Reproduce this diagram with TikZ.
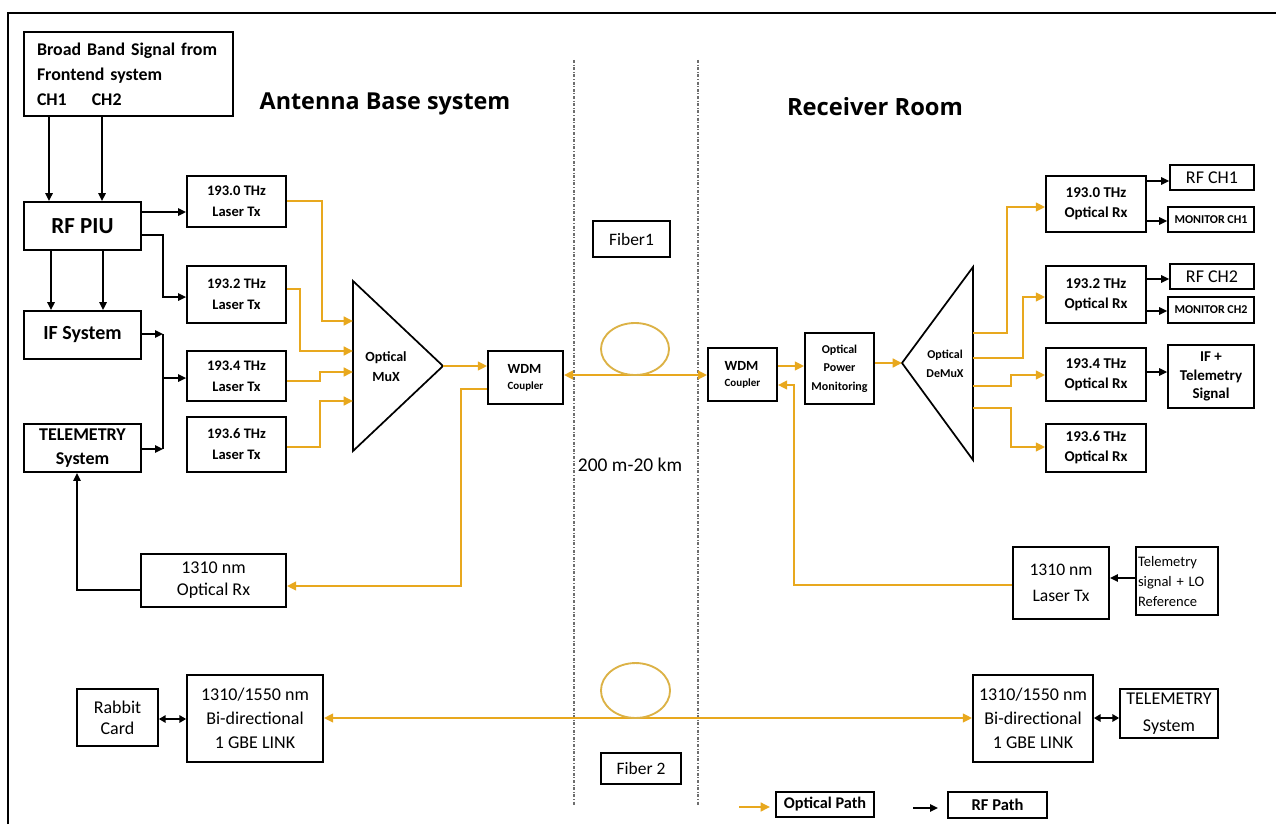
\documentclass[tikz,border=0pt]{standalone}
\usepackage{fontspec}
\setmainfont{Carlito}
\newfontfamily\titlefont{Open Sans}
\usetikzlibrary{arrows.meta}
\definecolor{optc}{RGB}{232,168,30}
\definecolor{loopc}{RGB}{220,178,70}
\definecolor{dotc}{RGB}{110,110,110}
\newcommand\fsz[2]{\fontsize{#1pt}{#2pt}\selectfont}
\tikzset{
  box/.style={draw, line width=1.3pt, inner sep=0pt, align=center},
  sz/.style 2 args={minimum width=#1*0.75pt, minimum height=#2*0.75pt},
  rf/.style={line width=1.3pt, -{Triangle[length=6pt,width=5.5pt]}},
  rfb/.style={line width=1.3pt, {Triangle[length=5pt,width=5.5pt]}-{Triangle[length=5pt,width=5.5pt]}},
  opt/.style={draw=optc, line width=2.1pt, -{Triangle[length=7pt,width=6.5pt]}},
  optb/.style={draw=optc, line width=2.1pt, {Triangle[length=7pt,width=6.5pt]}-{Triangle[length=7pt,width=6.5pt]}},
  fiberloop/.style={draw=loopc, line width=1.4pt},
  sepline/.style={draw=dotc, line width=1pt, dash pattern=on 2.2pt off 1.3pt on 0.6pt off 1.3pt},
}
\begin{document}
\begin{tikzpicture}[x=0.75pt, y=-0.75pt]
\useasboundingbox (0,0) rectangle (1276,824);
% frame
\coordinate (fr1) at (8,824);
\coordinate (fr2) at (8,13);
\coordinate (fr3) at (1276,13);
\draw[line width=1.6pt] (fr1) -- (fr2) -- (fr3);
% separators
\coordinate (s1t) at (574,60); \coordinate (s1b) at (574,805);
\coordinate (s2t) at (698,60); \coordinate (s2b) at (698,805);
\draw[sepline] (s1t) -- (s1b);
\draw[sepline] (s2t) -- (s2b);

% titles
\node[font=\titlefont\bfseries\fsz{17.5}{20}] (tA) at (385,104) {Antenna Base system};
\node[font=\titlefont\bfseries\fsz{17.8}{20}] (tR) at (875,107) {Receiver Room};
\node[font=\fsz{14.6}{17}] (dist) at (630,465) {200 m-20 km};

% left side boxes
\node[box, sz={209}{84}, align=left, text width=183*0.75pt, inner xsep=13*0.75pt, font=\bfseries\fsz{13.4}{18.75}] (bb) at (128.5,74) {Broad Band Signal from\\Frontend system\\CH1\hspace{1.4em}CH2};
\node[box, sz={117}{48}, font=\bfseries\fsz{17.25}{20}] (rfpiu) at (82.5,226) {RF PIU};
\node[box, sz={117}{48}, font=\bfseries\fsz{15}{18}] (ifs) at (82.5,335) {IF System};
\node[box, sz={117}{48}, font=\bfseries\fsz{13.5}{18}] (tel) at (82.5,448) {TELEMETRY\\System};
\node[box, sz={99}{51}, font=\bfseries\fsz{10.9}{15.75}] (l0) at (236.5,201.5) {193.0 THz\\Laser Tx};
\node[box, sz={99}{57}, font=\bfseries\fsz{10.9}{15.75}] (l2) at (236.5,294.5) {193.2 THz\\Laser Tx};
\node[box, sz={99}{50}, font=\bfseries\fsz{10.9}{15.75}] (l4) at (236.5,376) {193.4 THz\\Laser Tx};
\node[box, sz={99}{55}, font=\bfseries\fsz{10.9}{15.75}] (l6) at (236.5,444.5) {193.6 THz\\Laser Tx};
\node[box, sz={145}{53}, font=\fsz{13.5}{16.5}] (orx) at (213.5,580.5) {1310 nm\\Optical Rx};
\node[box, sz={81}{57}, font=\fsz{13.5}{15.75}] (rab) at (117.5,717.5) {Rabbit\\Card};
\node[box, sz={136}{87}, font=\fsz{13.5}{18}] (bil) at (255,718.5) {1310/1550 nm\\Bi-directional\\1 GBE LINK};
\node[box, sz={75}{53}, align=left, font=\bfseries] (wdml) at (525.5,377.5) {{\fsz{10.5}{14.25}WDM}\\{\fsz{8.25}{14.25}Coupler}};

% middle
\node[box, sz={77}{36}, font=\fsz{13.1}{16}] (fib1) at (631.5,239) {Fiber1};
\node[box, sz={80}{31}, font=\fsz{13.1}{16}] (fib2) at (641,768.5) {Fiber 2};

% right side boxes
\node[box, sz={69}{53}, align=left, font=\bfseries] (wdmr) at (742.5,374.5) {{\fsz{10.5}{14.25}WDM}\\{\fsz{8.25}{14.25}Coupler}};
\node[box, sz={69}{71}, font=\bfseries\fsz{9}{13.9}] (opm) at (839.5,368.5) {Optical\\Power\\Monitoring};
\node[box, sz={100}{56}, font=\bfseries\fsz{11.25}{15}] (r0) at (1096,204) {193.0 THz\\Optical Rx};
\node[box, sz={100}{57}, font=\bfseries\fsz{11.25}{15}] (r2) at (1096,294.5) {193.2 THz\\Optical Rx};
\node[box, sz={100}{53}, font=\bfseries\fsz{11.25}{15}] (r4) at (1096,374.5) {193.4 THz\\Optical Rx};
\node[box, sz={100}{48}, font=\bfseries\fsz{11.25}{15}] (r6) at (1096,448) {193.6 THz\\Optical Rx};
\node[box, sz={84}{25}, font=\fsz{13.5}{16}] (rfch1) at (1212,177.5) {RF CH1};
\node[box, sz={86}{25}, font=\bfseries\fsz{9}{11}] (mon1) at (1211,219.5) {MONITOR CH1};
\node[box, sz={84}{25}, font=\fsz{13.5}{16}] (rfch2) at (1212,276.5) {RF CH2};
\node[box, sz={86}{26}, font=\bfseries\fsz{9}{11}] (mon2) at (1211,310) {MONITOR CH2};
\node[box, sz={86}{63}, font=\bfseries\fsz{11.25}{13.9}] (ift) at (1211,376.5) {IF +\\Telemetry\\Signal};
\node[box, sz={96}{72}, font=\fsz{13.2}{20}] (ltx) at (1061,583) {1310 nm\\Laser Tx};
\node[box, sz={82}{68}, align=left, text width=78*0.75pt, inner xsep=2*0.75pt, font=\fsz{10.9}{15}] (tlo) at (1177,581) {Telemetry\\signal + LO\\Reference};
\node[box, sz={120}{87}, font=\fsz{13.5}{18}] (bir) at (1033,718.5) {1310/1550 nm\\Bi-directional\\1 GBE LINK};
\node[box, sz={98}{49}, font=\fsz{13.5}{20}] (telr) at (1169,713.5) {TELEMETRY\\System};

% legend
\node[box, sz={98}{25}, font=\bfseries\fsz{12.2}{14}] (legop) at (825,804.5) {Optical Path};
\node[box, sz={99}{26}, font=\bfseries\fsz{12.4}{14}] (legrf) at (997.5,805) {RF Path};
\coordinate (lo1) at (739,807); \coordinate (lo2) at (770,807);
\coordinate (lr1) at (913,808); \coordinate (lr2) at (938,808);
\draw[opt] (lo1) -- (lo2);
\draw[rf] (lr1) -- (lr2);

% mux / demux
\coordinate (muxA) at (353,281); \coordinate (muxB) at (353,451); \coordinate (muxO) at (443,366);
\draw[line width=1.3pt] (muxA) -- (muxB) -- (muxO) -- cycle;
\node[font=\bfseries\fsz{10.5}{15}, align=center] (muxt) at (386,367) {Optical\\MuX};
\coordinate (dmxI) at (902,363); \coordinate (dmxA) at (973,267); \coordinate (dmxB) at (973,460);
\draw[line width=1.3pt] (dmxI) -- (dmxA) -- (dmxB) -- cycle;
\node[font=\bfseries\fsz{9}{14.25}, align=center] (dmxt) at (945,364) {Optical\\DeMuX};

% RF connectors
\draw[rf] (bb.south -| 49,0) -- (rfpiu.north -| 49,0);
\draw[rf] (bb.south -| 102,0) -- (rfpiu.north -| 102,0);
\draw[rf] (rfpiu.south -| 51,0) -- (ifs.north -| 51,0);
\draw[rf] (rfpiu.south -| 103,0) -- (ifs.north -| 103,0);
\draw[rf] (rfpiu.east |- 0,212) -- (l0.west |- 0,212);
\draw[rf] (rfpiu.east |- 0,235) -| (163,297) -- (l2.west |- 0,297);
\coordinate (jt) at (163,334); \coordinate (jb) at (163,449); \coordinate (jm) at (163,378);
\draw[line width=1.3pt] (jt) -- (jb);
\draw[rf] (ifs.east |- jt) -- (jt);
\draw[rf] (tel.east |- jb) -- (jb);
\draw[rf] (jm) -- (l4.west |- jm);
\draw[rf] (orx.west |- 0,590) -| (tel.south -| 77,0);
\draw[rf] (r0.east |- 0,181) -- (rfch1.west |- 0,181);
\draw[rf] (r0.east |- 0,221) -- (mon1.west |- 0,221);
\draw[rf] (r2.east |- 0,279) -- (rfch2.west |- 0,279);
\draw[rf] (r2.east |- 0,311) -- (mon2.west |- 0,311);
\draw[rf] (r4.east |- 0,372) -- (ift.west |- 0,372);
\draw[rf] (tlo.west |- 0,578) -- (ltx.east |- 0,578);
\draw[rfb] (rab.east |- 0,719) -- (bil.west |- 0,719);
\draw[rfb] (bir.east |- 0,718) -- (telr.west |- 0,718);

% optical connectors
\draw[opt] (l0.east |- 0,201) -| (322,321) -- (muxA |- 0,321);
\draw[opt] (l2.east |- 0,289) -| (300,351) -- (muxA |- 0,351);
\draw[opt] (l4.east |- 0,381) -| (320,372) -- (muxA |- 0,372);
\draw[opt] (l6.east |- 0,447) -| (320,401) -- (muxA |- 0,401);
\draw[opt] (muxO) -- (wdml.west |- muxO);
\draw[optb] (wdml.east |- 0,375) -- (wdmr.west |- 0,375);
\draw[fiberloop] (635,349) ellipse [x radius=25.5pt, y radius=19.5pt];
\draw[opt] (wdml.west |- 0,389) -| (461,586) -- (orx.east |- 0,586);
\draw[opt] (wdmr.east |- 0,366) -- (opm.west |- 0,366);
\draw[opt] (ltx.west |- 0,585) -| (794,385) -- (wdmr.east |- 0,385);
\draw[opt] (opm.east |- dmxI) -- (dmxI);
\draw[opt] (dmxA |- 0,333) -| (1007,207) -- (r0.west |- 0,207);
\draw[opt] (dmxA |- 0,358) -| (1023,297) -- (r2.west |- 0,297);
\draw[opt] (dmxA |- 0,386) -| (1011,375) -- (r4.west |- 0,375);
\draw[opt] (dmxA |- 0,408) -| (1011,447) -- (r6.west |- 0,447);
\draw[optb] (bil.east |- 0,718) -- (bir.west |- 0,718);
\draw[fiberloop] (635.5,690.5) ellipse [x radius=25.9pt, y radius=20.6pt];
\end{tikzpicture}
\end{document}
